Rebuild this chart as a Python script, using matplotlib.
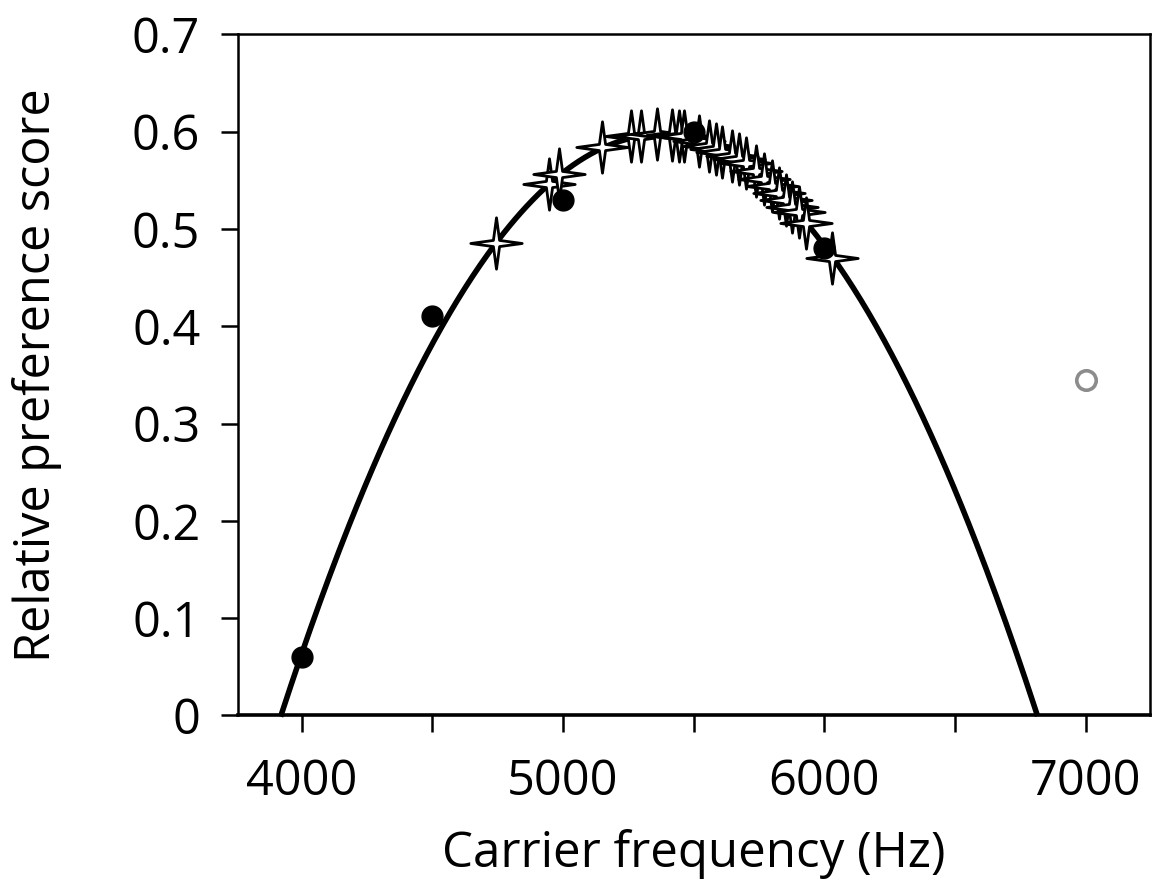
import matplotlib
matplotlib.use('Agg')
import matplotlib.pyplot as plt
import numpy as np
from matplotlib.path import Path

plt.rcParams['font.family'] = ['Open Sans', 'DejaVu Sans']

# Data
# mean preference scores at tested carrier frequencies
tested_freq = [4000, 4500, 5000, 5500, 6000]
tested_score = [0.06, 0.41, 0.53, 0.60, 0.48]

# outlier (excluded from fit)
outlier_freq = [7000]
outlier_score = [0.345]

# natural call carrier frequencies
call_freq = [4742, 4946, 4985, 5149, 5260, 5299, 5360, 5418, 5444, 5464,
             5521, 5559, 5585, 5609, 5648, 5674, 5700, 5738, 5770, 5801,
             5828, 5853, 5877, 5904, 5930, 6031]
call_score = [0.486, 0.546, 0.556, 0.584, 0.595, 0.596, 0.598, 0.597, 0.596, 0.595,
              0.590, 0.585, 0.582, 0.579, 0.575, 0.572, 0.568, 0.560, 0.551, 0.544,
              0.537, 0.530, 0.523, 0.517, 0.506, 0.470]

# quadratic fit coefficients (a, b, c)
fit_coef = [-2.847e-7, 3.0565e-3, -7.607]

x_ticks = [4000, 5000, 6000, 7000]
y_ticks = [0, 0.1, 0.2, 0.3, 0.4, 0.5, 0.6, 0.7]
y_tick_labels = ['0', '0.1', '0.2', '0.3', '0.4', '0.5', '0.6', '0.7']

# 4-pointed star marker
r_in = 0.17
angles = np.arange(8) * np.pi / 4 + np.pi / 2
radii = np.where(np.arange(8) % 2 == 0, 1.0, r_in)
star_verts = np.column_stack([radii * np.cos(angles), radii * np.sin(angles)])
star_verts = np.vstack([star_verts, star_verts[0]])
star = Path(star_verts, closed=True)

fig = plt.figure(figsize=(11.6, 8.8), dpi=100)
ax = fig.add_axes([0.205, 0.187, 0.786, 0.774])

xs = np.linspace(3900, 6850, 400)
ys = np.polyval(fit_coef, xs)
keep = ys >= 0
ax.plot(xs[keep], ys[keep], color='black', lw=4.0, zorder=2, clip_on=False)

ax.plot(call_freq, call_score, linestyle='none', marker=star, markersize=37,
        markerfacecolor='white', markeredgecolor='black', markeredgewidth=2.0, zorder=3)
ax.plot(tested_freq, tested_score, linestyle='none', marker='o', markersize=15,
        color='black', zorder=4)
ax.plot(outlier_freq, outlier_score, linestyle='none', marker='o', markersize=14,
        markerfacecolor='white', markeredgecolor='#8c8c8c', markeredgewidth=2.6, zorder=4)

ax.set_xlim(3755, 7245)
ax.set_ylim(0, 0.7)
ax.set_xticks(x_ticks)
ax.set_xticks([4500, 5500, 6500], minor=True)
ax.set_yticks(y_ticks)
ax.set_yticklabels(y_tick_labels)

ax.tick_params(axis='both', which='both', direction='out', length=12, width=1.8,
               labelsize=35, colors='black')
ax.tick_params(axis='y', pad=15)
ax.tick_params(axis='x', pad=18)

ax.spines['bottom'].set_linewidth(2.6)
ax.spines['left'].set_linewidth(1.8)
ax.spines['top'].set_linewidth(1.8)
ax.spines['right'].set_linewidth(1.8)

ax.set_xlabel('Carrier frequency (Hz)', fontsize=35.5, labelpad=16)
ax.set_ylabel('Relative preference score', fontsize=35, labelpad=50)

plt.savefig('out.png', dpi=100)
